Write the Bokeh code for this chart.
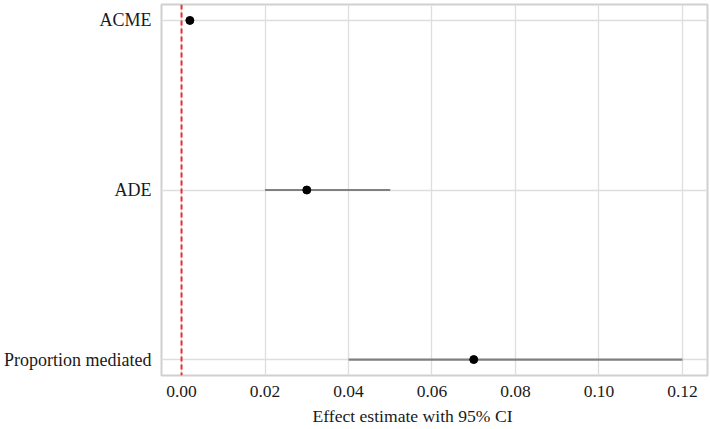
from bokeh.plotting import figure
from bokeh.models import ColumnDataSource, FixedTicker, Span
from bokeh.embed import file_html
from bokeh.resources import INLINE

# Data
labels = ["ACME", "ADE", "Proportion mediated"]
estimate = [0.002, 0.030, 0.070]
ci_low = [0.001, 0.020, 0.040]
ci_high = [0.003, 0.050, 0.120]
x_ticks = [0.00, 0.02, 0.04, 0.06, 0.08, 0.10, 0.12]
x_title = "Effect estimate with 95% CI"

ypos = [len(labels) - 1 - i for i in range(len(labels))]
src = ColumnDataSource(dict(y=ypos, est=estimate, lo=ci_low, hi=ci_high, lab=labels))

p = figure(width=710, height=429, output_backend="svg", toolbar_location=None,
           x_range=(-0.0048, 0.126), y_range=(-0.094, len(labels) - 1 + 0.094))
p.min_border_left = 161
p.min_border_bottom = 54
p.min_border_top = 4
p.min_border_right = 3

p.segment(x0="lo", x1="hi", y0="y", y1="y", source=src, line_color="#808080", line_width=2.2)
p.scatter(x="est", y="y", source=src, size=8, color="black")

vline = Span(location=0, dimension="height", line_color="#e8312f", line_width=2, line_dash="5 3")
p.add_layout(vline)

p.xaxis.ticker = FixedTicker(ticks=x_ticks)
p.xaxis.major_label_overrides = {t: f"{t:.2f}" for t in x_ticks}
p.yaxis.ticker = FixedTicker(ticks=ypos)
p.yaxis.major_label_overrides = {y: l for y, l in zip(ypos, labels)}

for ax in (p.xaxis[0], p.yaxis[0]):
    ax.axis_line_color = None
    ax.major_tick_line_color = None
    ax.minor_tick_line_color = None
    ax.major_tick_in = 0
    ax.major_tick_out = 0
    ax.major_label_text_font = "Liberation Serif"
    ax.major_label_text_font_size = "17.5px"
    ax.major_label_text_color = "#1a1a1a"
p.yaxis.major_label_text_font_size = "18px"
p.xaxis.major_label_standoff = 10
p.yaxis.major_label_standoff = 10

p.xaxis.axis_label = x_title + "\u00a0" * 10
p.xaxis.axis_label_text_font = "Liberation Serif"
p.xaxis.axis_label_text_font_style = "normal"
p.xaxis.axis_label_text_font_size = "17.6px"
p.xaxis.axis_label_text_color = "#1a1a1a"
p.xaxis.axis_label_standoff = 6

p.xgrid.ticker = FixedTicker(ticks=x_ticks)
p.ygrid.ticker = FixedTicker(ticks=ypos)
p.grid.grid_line_color = "#dedede"
p.grid.grid_line_width = 1.3
p.outline_line_color = "#d0d0d0"
p.outline_line_width = 2

open("out.html", "w").write(file_html(p, INLINE))
